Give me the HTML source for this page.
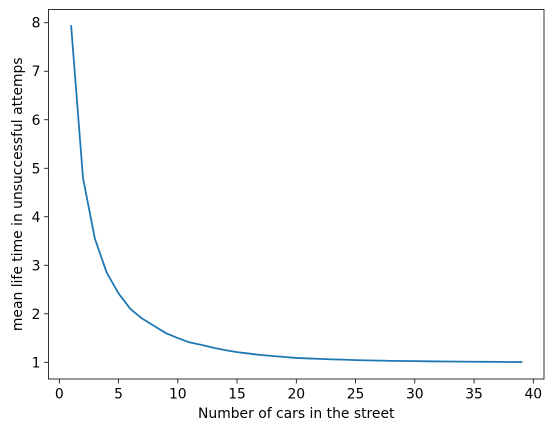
<!DOCTYPE html>
<html><head><meta charset="utf-8"><style>
body{margin:0;background:#fff}
svg{display:block;font-family:"DejaVu Sans","Liberation Sans",sans-serif}
</style></head><body>
<svg id="chart" width="554" height="432">
<rect x="0" y="0" width="554" height="432" fill="#fff"></rect>
<g id="plot"></g>
</svg>
<script>
const xValues=[1,2,3,4,5,6,7,8,9,10,11,12,13,14,15,16,17,18,19,20,21,22,23,24,25,26,27,28,29,30,31,32,33,34,35,36,37,38,39];
const yValues=[7.93,4.8,3.55,2.85,2.42,2.1,1.9,1.75,1.6,1.5,1.41,1.36,1.3,1.25,1.21,1.18,1.15,1.13,1.11,1.09,1.08,1.07,1.06,1.055,1.045,1.04,1.035,1.03,1.027,1.024,1.02,1.018,1.016,1.014,1.012,1.01,1.008,1.006,1.005];
const xTicks=[0,5,10,15,20,25,30,35,40];
const yTicks=[1,2,3,4,5,6,7,8];
const NS="http://www.w3.org/2000/svg";
const L=48.5,R=544,T=9.5,B=379,FS=13.9;
function sx(v){return 59.3+v*11.85;}
function sy(v){return 362.3-(v-1)*48.51;}
const g=document.getElementById('plot');
function mk(tag,attrs){const e=document.createElementNS(NS,tag);for(const k in attrs)e.setAttribute(k,attrs[k]);g.appendChild(e);return e;}
xTicks.forEach(t=>{
  const l=mk('line',{x1:sx(t),x2:sx(t),y1:B,y2:B+4.5,stroke:'#000','stroke-width':0.8});
  
  
  const tx=mk('text',{x:sx(t),y:B+19.5,'text-anchor':'middle','font-size':FS,fill:'#000'});
  tx.textContent=t;
  
  
});
yTicks.forEach(t=>{
  const l=mk('line',{x1:L-4.5,x2:L,y1:sy(t),y2:sy(t),stroke:'#000','stroke-width':0.8});
  
  
  const tx=mk('text',{x:L-8,y:sy(t)+5,'text-anchor':'end','font-size':FS,fill:'#000'});
  tx.textContent=t;
  
  
});
const p=mk('polyline',{points:xValues.map((x,i)=>sx(x)+','+sy(yValues[i])).join(' '),fill:'none',stroke:'#1f77b4','stroke-width':1.8,'stroke-linejoin':'round','stroke-linecap':'square'});


const fr=mk('rect',{x:L,y:T,width:R-L,height:B-T,fill:'none',stroke:'#000','stroke-width':0.8});


const xl=mk('text',{x:(L+R)/2,y:418,'text-anchor':'middle','font-size':FS,fill:'#000'});
xl.textContent='Number of cars in the street';


const yl=mk('text',{x:0,y:0,'text-anchor':'middle','font-size':FS,fill:'#000',transform:'translate(22,'+((T+B)/2)+') rotate(-90)'});
yl.textContent='mean life time in unsuccessful attemps';


</script>
</body></html>
